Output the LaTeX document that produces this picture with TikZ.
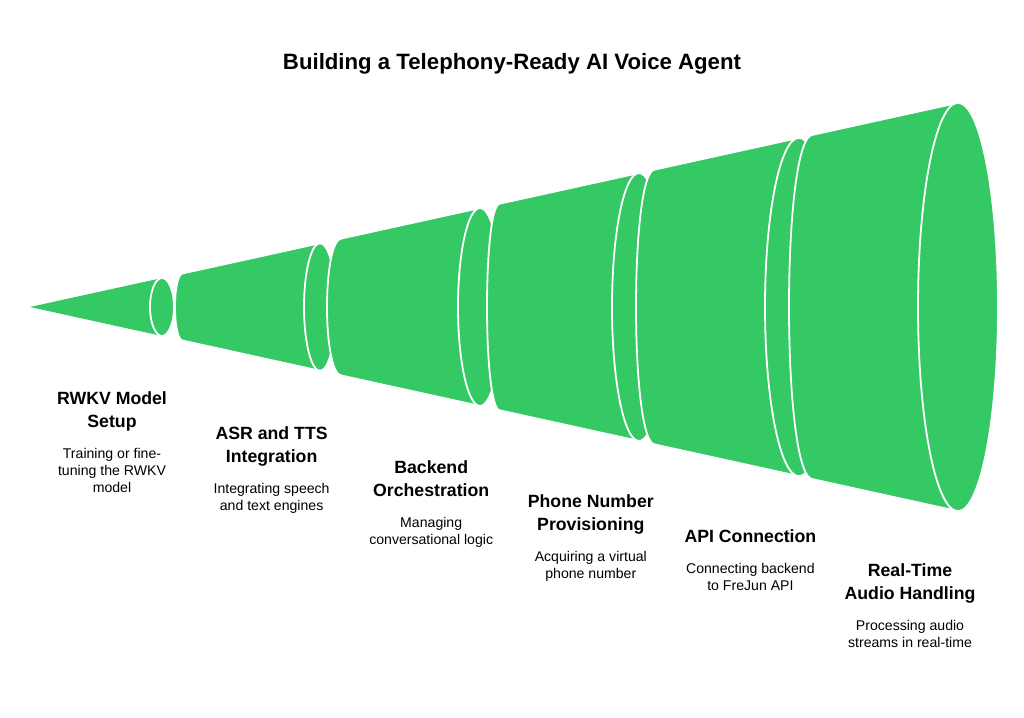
\documentclass[tikz,border=0pt]{standalone}
\usepackage{fontspec}
\setmainfont{Liberation Sans}
\usepackage{tikz}
\usetikzlibrary{positioning}
\definecolor{funnel}{RGB}{52,201,100}

\begin{document}
\begin{tikzpicture}[x=1pt, y=-1pt,
			part/.style={fill=funnel, draw=white, line width=1.8pt, line join=round},
			title/.style={font=\fontsize{22.2}{26}\selectfont\bfseries, align=center},
			head/.style={font=\fontsize{17.7}{23}\selectfont\bfseries, align=center, inner sep=0pt, anchor=north},
			desc/.style={font=\fontsize{14.1}{17}\selectfont, align=center, inner sep=0pt},
			]
			\useasboundingbox (0,0) rectangle (1024,717);
			
			\node[title, anchor=base] (mainTitle) at (512,70) {Building a Telephony-Ready AI Voice Agent};
			
			% cone tip
			\coordinate (tip) at (30,307);
			\fill[funnel] (tip) -- (162,278) -- (162,336) -- cycle;
			\draw[part] (162,307) ellipse [x radius=12, y radius=29];
			
			% frustums
			\foreach \xl/\xm/\xc/\rx in {183/175/320/16, 342/327/480/22, 500/487/639/27, 655/636/799/34, 813/789/958/40}
			{
				\pgfmathsetmacro{\ryl}{0.22*(\xl-30)}
				\pgfmathsetmacro{\ryr}{0.22*(\xc-30)}
				\pgfmathsetmacro{\bend}{(\xl-\xm)/0.75}
				\draw[part] (\xl,307-\ryl) -- (\xc,307-\ryr) -- (\xc,307+\ryr) -- (\xl,307+\ryl)
				.. controls (\xl-\bend,307+\ryl) and (\xl-\bend,307-\ryl) .. (\xl,307-\ryl) -- cycle;
				\draw[part] (\xc,307) ellipse [x radius=\rx, y radius=\ryr];
			}
			
			% labels
			\node[head] (h1) at (112,388.3) {\strut RWKV Model\\Setup\strut};
			\node[desc, below=11.9pt of h1] (d1) {\strut Training or fine-\\tuning the RWKV\\model};
			
			\node[head] (h2) at (271.6,422.7) {\strut ASR and TTS\\Integration\strut};
			\node[desc, below=11.9pt of h2] (d2) {\strut Integrating speech\\and text engines};
			
			\node[head] (h3) at (431.2,457.1) {\strut Backend\\Orchestration\strut};
			\node[desc, below=11.9pt of h3] (d3) {\strut Managing\\conversational logic};
			
			\node[head] (h4) at (590.8,491.5) {\strut Phone Number\\Provisioning\strut};
			\node[desc, below=11.9pt of h4] (d4) {\strut Acquiring a virtual\\phone number};
			
			\node[head] (h5) at (750.4,525.9) {\strut API Connection\strut};
			\node[desc, below=11.9pt of h5] (d5) {\strut Connecting backend\\to FreJun API};
			
			\node[head] (h6) at (910,560.3) {\strut Real-Time\\Audio Handling\strut};
			\node[desc, below=11.9pt of h6] (d6) {\strut Processing audio\\streams in real-time};
			
		\end{tikzpicture}
\end{document}
